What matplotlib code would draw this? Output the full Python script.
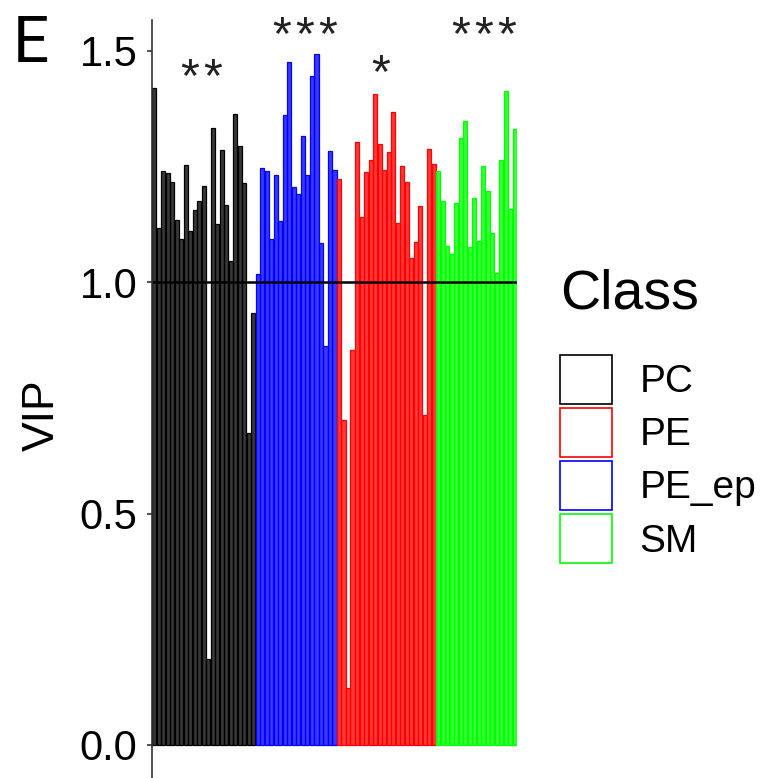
import numpy as np
import matplotlib.pyplot as plt
from matplotlib.patches import Patch

# Data (VIP values per lipid, grouped by class, in plotted order)
pc_vip = [1.420, 1.117, 1.240, 1.236, 1.216, 1.134, 1.093, 1.253, 1.110, 1.155, 1.174, 1.207,
          0.185, 1.333, 1.125, 1.285, 1.167, 1.046, 1.363, 1.294, 1.213, 0.674, 0.933]
pe_ep_vip = [1.018, 1.247, 1.240, 1.092, 1.231, 1.131, 1.360, 1.475, 1.206, 1.191, 1.315, 1.231,
             1.445, 1.492, 1.085, 0.862, 1.283, 1.241]
pe_vip = [1.222, 0.702, 0.123, 0.853, 1.303, 1.141, 1.238, 1.264, 1.407, 1.299, 1.241, 1.280,
          1.368, 1.127, 1.251, 1.217, 1.052, 1.086, 1.165, 0.713, 1.287, 1.255]
sm_vip = [1.240, 1.176, 1.078, 1.060, 1.171, 1.312, 1.348, 1.076, 1.181, 1.089, 1.251, 1.197,
          1.105, 1.019, 1.264, 1.413, 1.157, 1.330]

plot_order = ["PC", "PE_ep", "PE", "SM"]
legend_order = ["PC", "PE", "PE_ep", "SM"]
class_data = {"PC": pc_vip, "PE_ep": pe_ep_vip, "PE": pe_vip, "SM": sm_vip}
class_colors = {"PC": "#000000", "PE": "#FF0000", "PE_ep": "#0000FF", "SM": "#00FF00"}

# significance marks (number of stars, centre position in bar units, baseline height)
star_counts = [2, 3, 1, 3]
star_x = [10.4, 33.45, 50.3, 73.2]
star_y = [1.412, 1.504, 1.422, 1.504]
star_step = 5.1  # spacing between stars, bar units

yticks = [0.0, 0.5, 1.0, 1.5]
ytick_labels = ["0.0", "0.5", "1.0", "1.5"]

plt.rcParams['font.family'] = ['Liberation Sans', 'DejaVu Sans']
fig = plt.figure(figsize=(7.72, 7.78), dpi=100)
ax = fig.add_axes([152/772, 0.0, (517-152)/772, (778-20)/778])

start = 0
for cls in plot_order:
    vals = class_data[cls]
    xs = np.arange(start, start + len(vals))
    ax.bar(xs, vals, width=0.9, color=class_colors[cls], alpha=0.78,
           edgecolor='none')
    ax.bar(xs, vals, width=0.9, facecolor='none', edgecolor=class_colors[cls],
           linewidth=0.9)
    start += len(vals)

ax.axhline(1.0, color='black', lw=1.8)

for n, sx, sy in zip(star_counts, star_x, star_y):
    for k in range(n):
        ax.text(sx + (k - (n - 1) / 2) * star_step, sy, "*", ha='center', va='baseline',
                fontsize=35, color='#222222')

ax.set_xlim(-0.5, start - 0.5)
ax.set_ylim(-0.0713, 1.566)
ax.set_yticks(yticks)
ax.set_yticklabels(ytick_labels, fontsize=30)
ax.set_xticks([])
for s in ['top', 'right', 'bottom']:
    ax.spines[s].set_visible(False)
ax.spines['left'].set_linewidth(1.2)
ax.spines['left'].set_color('#333333')
ax.tick_params(axis='y', length=3.5, width=1.2, color='#333333', pad=7)
ax.set_ylabel("VIP", fontsize=32)
ax.yaxis.set_label_coords((63-152)/365, (778-415)/758)

fig.text(13/772, 1 - 62/778, "E", fontsize=46, ha='left', va='baseline',
         family=['Roboto', 'Liberation Sans'])

handles = [Patch(facecolor='white', edgecolor=class_colors[c], linewidth=1.2) for c in legend_order]
leg = fig.legend(handles, legend_order, loc='upper left', bbox_to_anchor=(560/772, 1 - 268/778),
                 frameon=False, fontsize=28, title="Class", title_fontsize=40,
                 handlelength=1.33, handleheight=1.56, handletextpad=0.72,
                 labelspacing=0.11, borderpad=0, borderaxespad=0)
leg._legend_box.align = "left"
leg._legend_box.sep = 25

fig.savefig("out.png", dpi=100)
